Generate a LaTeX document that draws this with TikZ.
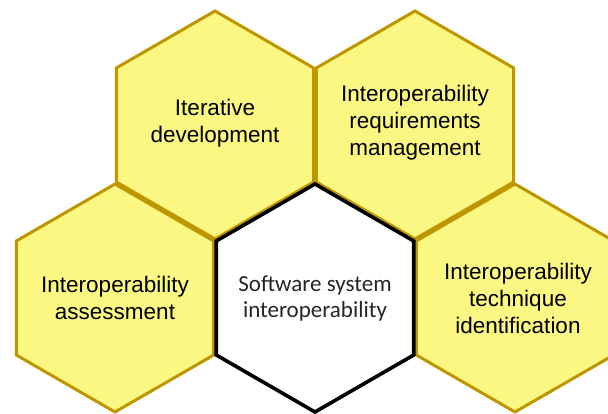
\documentclass[tikz,border=0pt]{standalone}
\usepackage{fontspec}
\setmainfont{Liberation Sans}
\newfontfamily\carl{Carlito}
\definecolor{hexfill}{RGB}{250,248,130}
\definecolor{hexline}{RGB}{190,150,0}
\tikzset{
  hexy/.style={fill=hexfill, draw=hexline, line width=3pt, line join=miter},
  hexcore/.style={fill=white, draw=black, line width=3.6pt, line join=miter},
  hextext/.style={align=center, font=\fontsize{22.5}{27}\selectfont, text=black, inner sep=0pt},
  coretext/.style={align=center, font=\carl\fontsize{23}{26}\selectfont, text=black!85, inner sep=0pt}
}
\newcommand{\hexpath}[2]{(#1) +(90:#2) -- +(150:#2) -- +(210:#2) -- +(270:#2) -- +(330:#2) -- +(30:#2) -- cycle}
\begin{document}
\begin{tikzpicture}[x=1pt,y=-1pt]
\useasboundingbox (0,0) rectangle (608,414);
\clip (0,0) rectangle (608,414);
\coordinate (cIt) at (215,125);
\coordinate (cRq) at (415,125);
\coordinate (cAs) at (115,298);
\coordinate (cSw) at (315,298);
\coordinate (cTe) at (515,298);
\def\R{114.0}
\draw[hexy] \hexpath{cIt}{\R};
\draw[hexy] \hexpath{cRq}{\R};
\draw[hexy] \hexpath{cAs}{\R};
\draw[hexy] \hexpath{cTe}{\R};
\draw[hexcore] \hexpath{cSw}{\R};
\node[hextext] (it) at (215,123) {Iterative\\development};
\node[hextext] (rq) at (415,123) {Interoperability\\requirements\\management};
\node[hextext] (as) at (115,298) {Interoperability\\assessment};
\node[hextext] (te) at (518,298) {Interoperability\\technique\\identification};
\node[coretext] (sw) at (315,298) {Software system\\interoperability};
\end{tikzpicture}
\end{document}
